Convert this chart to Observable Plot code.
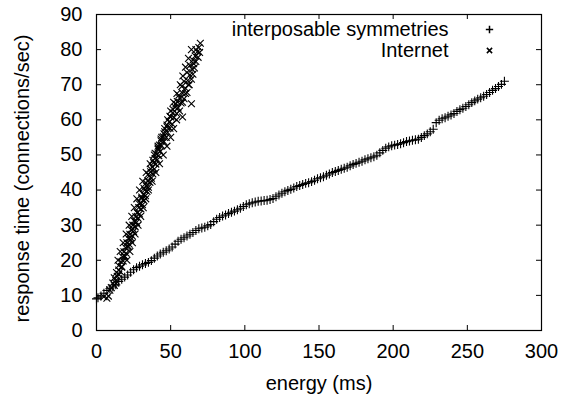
<!DOCTYPE html>
<html><head><meta charset="utf-8">
<script src="https://cdn.jsdelivr.net/npm/d3@7"></script>
<script src="https://cdn.jsdelivr.net/npm/@observablehq/plot@0.6"></script>
<style>body{margin:0;background:#fff}</style>
</head><body><div id="chart"></div>
<script>
const seriesNames = ["interposable symmetries", "Internet"];
const xLabel = "energy (ms)";
const yLabel = "response time (connections/sec)";
const xTicks = [0, 50, 100, 150, 200, 250, 300];
const yTicks = [0, 10, 20, 30, 40, 50, 60, 70, 80, 90];

// series 1: interposable symmetries (+)
const symX = [0,1,3,5,7,9,11,13,15,17,19,21,23,25,27,29,31,33,35,37,39,41,43,45,47,49,51,53,55,57,59,61,63,65,67,69,71,73,75,77,79,81,83,85,87,89,91,93,95,97,99,101,103,105,107,109,111,113,115,117,119,121,123,125,127,129,131,133,135,137,139,141,143,145,147,149,151,153,155,157,159,161,163,165,167,169,171,173,175,177,179,181,183,185,187,189,191,193,195,197,199,201,203,205,207,209,211,213,215,217,219,221,223,225,227,229,231,233,235,237,239,241,243,245,247,249,251,253,255,257,259,261,263,265,267,269,271,273,275];
const symY = [9.0,9.3,9.8,10.6,11.4,11.9,12.4,13.0,14.0,14.6,15.2,15.8,16.6,17.3,17.9,18.3,18.7,19.1,19.4,19.9,20.6,21.2,21.8,22.3,22.7,23.2,23.8,24.6,25.4,26.0,26.4,26.9,27.4,27.9,28.5,29.0,29.2,29.4,29.8,30.2,31.0,31.7,32.2,32.6,32.9,33.3,33.7,34.0,34.4,34.8,35.3,35.8,36.1,36.4,36.6,36.8,36.9,37.0,37.1,37.3,37.6,38.1,38.6,39.1,39.5,39.9,40.2,40.6,41.0,41.3,41.6,41.9,42.1,42.4,42.8,43.2,43.5,43.8,44.2,44.6,45.0,45.3,45.6,45.9,46.2,46.5,46.9,47.3,47.6,47.9,48.2,48.6,48.9,49.2,49.5,49.9,50.6,51.3,51.9,52.3,52.6,52.8,53.0,53.2,53.5,53.8,54.0,54.2,54.3,54.5,55.0,55.5,56.0,56.6,57.3,59.2,59.9,60.3,60.6,61.0,61.4,61.8,62.4,62.9,63.3,63.8,64.3,64.9,65.4,65.9,66.3,66.7,67.2,67.8,68.4,68.9,69.5,70.1,71.0];

// series 2: Internet (x)
const netX = [5,7,8,9,10,11,12,12,13,13.5,14,15,15,16,16.5,17,17.5,18,18.5,19,19.5,20,20.5,21,21.5,22,22.5,23,23.5,24,24.5,25,25.5,26,26.5,27,27.5,28,28.5,29,29.5,30,30.5,31,31.5,32,32.5,33,33.5,34,34.5,35,35.5,36,36.5,37,37.5,38,38.5,39,39.5,40,40.5,41,41.5,42,42.5,43,43.5,44,45,45.5,46,47,47.5,48,49,49.5,50,51,51.5,52,53,54,54.5,55,56,57,58,58,59,60,61,61.5,62,63,64,64,64.5,65,65.5,66,66.5,67,68,68.5,69,69.5,70,
  14.5,16,18,20,22,23.8,25.5,27.2,29,31.2,33.5,36.2,39,41.5,44,46,48,50,52,54.2,56.5,58.2,60,62,64,
  13,15,17,20.5,22.5,24.2,26,28,29.8,31.5,33.2,35,37.5,40,42.5,45,47.5,50,52,54,56,58,60,62.5,
  19,21.5,23,24.5,26,27.5,29,30.5,32,33.5,35,36.5,38,39.5,41.5,43.5,45.5,47.5,49.5,51.5,53.5,55.5,57.5,59,61,63,65,67];
const netY = [9.6,9.2,9.8,11.5,12.2,13.5,12.8,15.0,14.2,16.5,15.4,17.2,18.5,16.8,19.6,18.2,21.0,19.8,22.4,21.2,23.6,22.0,25.0,23.8,26.2,24.6,27.4,25.8,28.6,27.0,30.0,28.2,31.2,29.6,32.4,30.8,33.6,32.0,35.0,33.2,36.4,34.6,37.6,35.8,38.8,37.0,40.0,38.4,41.2,39.6,42.6,40.8,44.0,42.2,45.2,43.4,46.6,44.6,47.8,46.0,49.0,47.4,50.2,48.6,51.6,49.8,52.8,51.0,54.0,52.6,55.2,53.8,56.6,55.0,58.0,56.4,59.4,57.6,60.8,58.8,62.0,60.6,63.6,61.8,65.2,63.4,66.2,64.8,60.8,67.6,66.0,69.0,67.8,71.2,70.0,72.8,64.6,71.6,74.4,73.0,76.0,74.8,78.2,76.6,79.4,77.8,80.6,79.2,81.8,
  20,22.5,25,27.5,30,32.5,35,37.5,40,42.5,45,47.5,50,52.5,55,57.5,60,62.5,65,67.5,70,72.5,75,77.5,80,
  13.5,16,18,20,22.5,25,27.5,30,32.5,35,37.5,40,42.5,45,47.5,50,52.5,55,57.5,60,62.5,65,67.5,70,
  21,24,26.5,29,31,33.5,36,38,40.5,42,44.5,46,48.5,50.5,52,54.5,56,58.5,61,63,64.5,67,69.5,71,73.5,75.5,77,80];

const sym = symX.map((x, i) => ({x, y: symY[i]}));
const net = netX.map((x, i) => ({x, y: netY[i]}));

const W = 573, H = 397, mL = 96, mR = 32, mT = 14, mB = 67;
const pw = W - mL - mR, ph = H - mT - mB, tk = 5;

const plot = Plot.plot({
  width: W, height: H,
  marginLeft: mL, marginRight: mR, marginTop: mT, marginBottom: mB,
  style: {fontFamily: "'Liberation Sans', Arial, sans-serif", fontSize: "20px", color: "#000", background: "#fff"},
  x: {domain: [0, 300]},
  y: {domain: [0, 90]},
  marks: [
    Plot.axisX({ticks: xTicks, tickSize: 0, tickPadding: 13, label: null}),
    Plot.axisY({ticks: yTicks, tickSize: 0, tickPadding: 14, label: null}),
    Plot.tickX(xTicks, {x: d => d, insetTop: ph - tk, stroke: "black"}),
    Plot.tickX(xTicks, {x: d => d, insetBottom: ph - tk, stroke: "black"}),
    Plot.tickY(yTicks, {y: d => d, insetRight: pw - tk, stroke: "black"}),
    Plot.tickY(yTicks, {y: d => d, insetLeft: pw - tk, stroke: "black"}),
    Plot.dot(sym, {x: "x", y: "y", symbol: "plus", r: 3, stroke: "black", strokeWidth: 1.1}),
    Plot.dot(net, {x: "x", y: "y", symbol: "times", r: 3.2, stroke: "black", strokeWidth: 1.1}),
    Plot.text([seriesNames[0]], {frameAnchor: "top-right", textAnchor: "end", lineAnchor: "middle", dx: -93, dy: 15, fill: "black"}),
    Plot.text([seriesNames[1]], {frameAnchor: "top-right", textAnchor: "end", lineAnchor: "middle", dx: -93, dy: 36, fill: "black"}),
    Plot.dot([0], {frameAnchor: "top-right", dx: -52, dy: 15, symbol: "plus", r: 2.5, stroke: "black"}),
    Plot.dot([0], {frameAnchor: "top-right", dx: -52, dy: 36, symbol: "times", r: 2.5, stroke: "black"}),
    Plot.text([xLabel], {frameAnchor: "bottom", textAnchor: "middle", lineAnchor: "middle", dy: 53, fill: "black"}),
    Plot.text([yLabel], {frameAnchor: "left", textAnchor: "middle", lineAnchor: "middle", dx: -74, dy: 6, rotate: -90, fill: "black"}),
    Plot.frame({stroke: "black", strokeWidth: 1.2})
  ]
});
document.getElementById("chart").appendChild(plot);
</script>
</body></html>
